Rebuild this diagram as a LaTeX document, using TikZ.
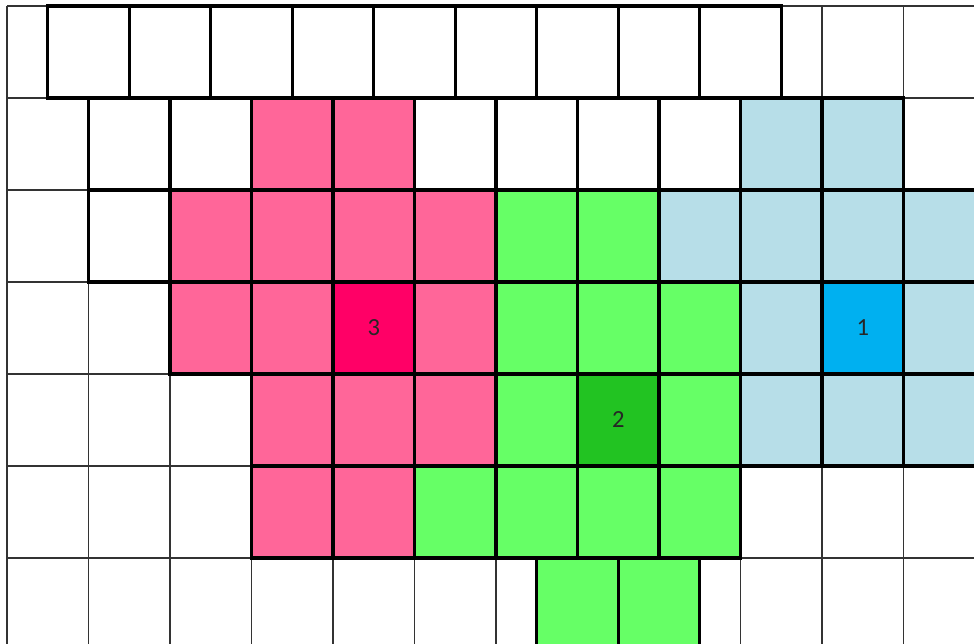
\documentclass[tikz,border=0pt]{standalone}
\usepackage{fontspec}
\setmainfont{Carlito}
\definecolor{rosa}{HTML}{FF6699}
\definecolor{rosaoscuro}{HTML}{FF0066}
\definecolor{verde}{HTML}{66FF66}
\definecolor{verdeoscuro}{HTML}{22C322}
\definecolor{celeste}{HTML}{B7DEE8}
\definecolor{azul}{HTML}{00B0F0}
\tikzset{
  fina/.style={draw=black!80, line width=0.6pt},
  celda/.style={draw=black, line width=1.9pt, line join=miter},
  cifra/.style={font=\fontsize{14}{16}\selectfont, text=black!85},
}

\begin{document}
\begin{tikzpicture}[x=1.63cm, y=-1.84cm]
  \useasboundingbox (-0.086,-0.065) rectangle (11.865,6.935);
  \clip (-0.086,-0.065) rectangle (11.865,6.935);
  % cuadricula de fondo
  \foreach \c in {0,...,12} \draw[fina] (\c,0) -- (\c,7);
  \foreach \f in {0,...,7} \draw[fina] (0,\f) -- (12,\f);
  % filas de celdas
  \foreach \x in {0.5,1.5,...,8.5} \draw[celda, fill=white] (\x,0) rectangle ++(1,1);
  \foreach \c [count=\i from 1] in {white,white,rosa,rosa,white,white,white,white,celeste,celeste}
    \draw[celda, fill=\c] (\i,1) rectangle ++(1,1);
  \foreach \c [count=\i from 1] in {white,rosa,rosa,rosa,rosa,verde,verde,celeste,celeste,celeste,celeste}
    \draw[celda, fill=\c] (\i,2) rectangle ++(1,1);
  \foreach \c [count=\i from 2] in {rosa,rosa,rosaoscuro,rosa,verde,verde,verde,celeste,azul,celeste}
    \draw[celda, fill=\c] (\i,3) rectangle ++(1,1);
  \foreach \c [count=\i from 3] in {rosa,rosa,rosa,verde,verdeoscuro,verde,celeste,celeste,celeste}
    \draw[celda, fill=\c] (\i,4) rectangle ++(1,1);
  \foreach \c [count=\i from 3] in {rosa,rosa,verde,verde,verde,verde}
    \draw[celda, fill=\c] (\i,5) rectangle ++(1,1);
  \foreach \x in {6.5,7.5} \draw[celda, fill=verde] (\x,6) rectangle ++(1,1);
  % centros
  \node[cifra] (c1) at (10.5,3.5) {1};
  \node[cifra] (c2) at (7.5,4.5) {2};
  \node[cifra] (c3) at (4.5,3.5) {3};
\end{tikzpicture}
\end{document}
